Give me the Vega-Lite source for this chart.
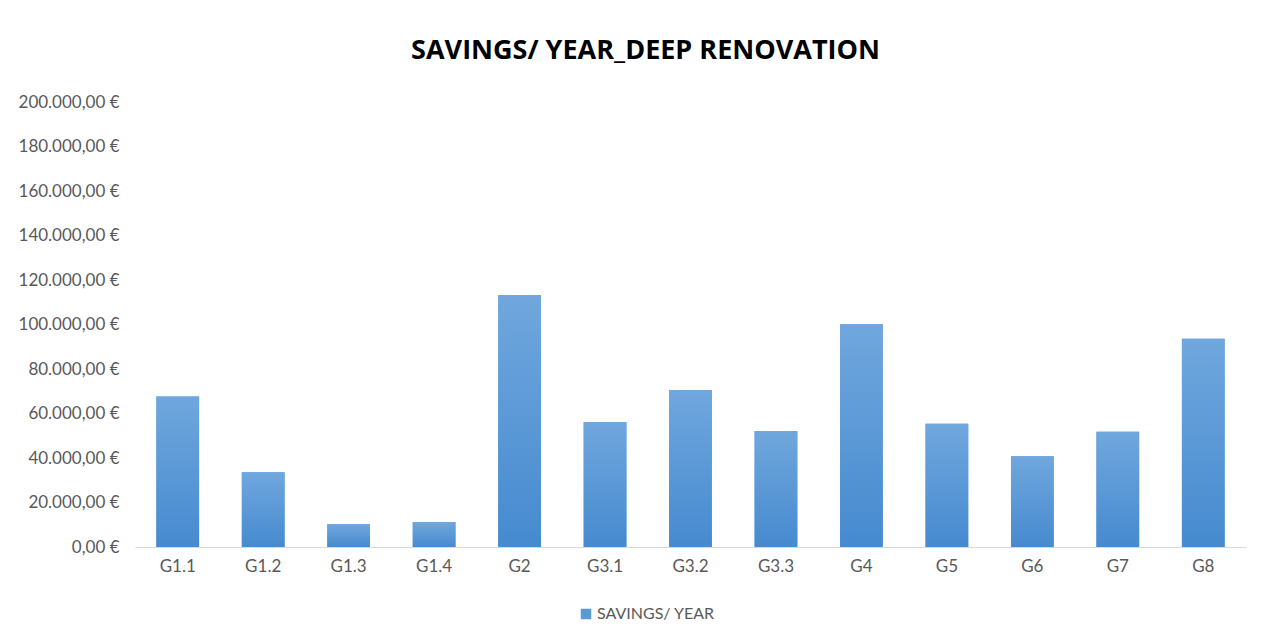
{
  "$schema": "https://vega.github.io/schema/vega-lite/v6.json",
  "autosize": "none",
  "width": 1111,
  "height": 445,
  "padding": {"left": 135, "top": 102, "right": 17, "bottom": 95},
  "background": "white",
  "title": {
    "text": "SAVINGS/ YEAR_DEEP RENOVATION",
    "font": "Open Sans",
    "fontSize": 27,
    "fontWeight": "bold",
    "color": "#000000",
    "anchor": "middle",
    "frame": "group",
    "dx": -45,
    "offset": 28
  },
  "data": {
    "values": [
      {"group": "G1.1", "savings": 67600, "series": "SAVINGS/ YEAR"},
      {"group": "G1.2", "savings": 33600, "series": "SAVINGS/ YEAR"},
      {"group": "G1.3", "savings": 10200, "series": "SAVINGS/ YEAR"},
      {"group": "G1.4", "savings": 11200, "series": "SAVINGS/ YEAR"},
      {"group": "G2", "savings": 113300, "series": "SAVINGS/ YEAR"},
      {"group": "G3.1", "savings": 56200, "series": "SAVINGS/ YEAR"},
      {"group": "G3.2", "savings": 70600, "series": "SAVINGS/ YEAR"},
      {"group": "G3.3", "savings": 52100, "series": "SAVINGS/ YEAR"},
      {"group": "G4", "savings": 100100, "series": "SAVINGS/ YEAR"},
      {"group": "G5", "savings": 55400, "series": "SAVINGS/ YEAR"},
      {"group": "G6", "savings": 40800, "series": "SAVINGS/ YEAR"},
      {"group": "G7", "savings": 51800, "series": "SAVINGS/ YEAR"},
      {"group": "G8", "savings": 93600, "series": "SAVINGS/ YEAR"}
    ]
  },
  "encoding": {
    "x": {
      "field": "group",
      "type": "nominal",
      "sort": null,
      "scale": {"paddingInner": 0.5, "paddingOuter": 0.25},
      "axis": {
        "title": null,
        "labelAngle": 0,
        "ticks": false,
        "domainColor": "#d9d9d9",
        "domainWidth": 1,
        "labelFont": "Lato",
        "labelFontSize": 17,
        "labelColor": "#595959",
        "labelPadding": 11
      }
    },
    "y": {
      "field": "savings",
      "type": "quantitative",
      "scale": {"domain": [0, 200000], "nice": false},
      "axis": {
        "title": null,
        "values": [0, 20000, 40000, 60000, 80000, 100000, 120000, 140000, 160000, 180000, 200000],
        "format": "$,.2f",
        "domain": false,
        "ticks": false,
        "grid": false,
        "labelFont": "Lato",
        "labelFontSize": 17,
        "labelColor": "#595959",
        "labelPadding": 16
      }
    }
  },
  "layer": [
    {
      "mark": {"type": "bar"},
      "encoding": {
        "color": {
          "field": "series",
          "type": "nominal",
          "scale": {"range": ["#5B9BD5"]},
          "legend": {
            "title": null,
            "orient": "none",
            "legendX": 443,
            "legendY": 504,
            "symbolType": "square",
            "symbolSize": 110,
            "symbolStrokeWidth": 0,
            "labelFont": "Lato",
            "labelFontSize": 16,
            "labelColor": "#595959",
            "labelOffset": 3
          }
        }
      }
    },
    {
      "mark": {
        "type": "bar",
        "fill": {
          "gradient": "linear",
          "x1": 0, "y1": 0, "x2": 0, "y2": 1,
          "stops": [
            {"offset": 0, "color": "#70A7DD"},
            {"offset": 1, "color": "#468ACF"}
          ]
        }
      }
    }
  ],
  "config": {
    "view": {"stroke": null},
    "locale": {
      "number": {
        "decimal": ",",
        "thousands": ".",
        "grouping": [3],
        "currency": ["", " €"]
      }
    }
  }
}
